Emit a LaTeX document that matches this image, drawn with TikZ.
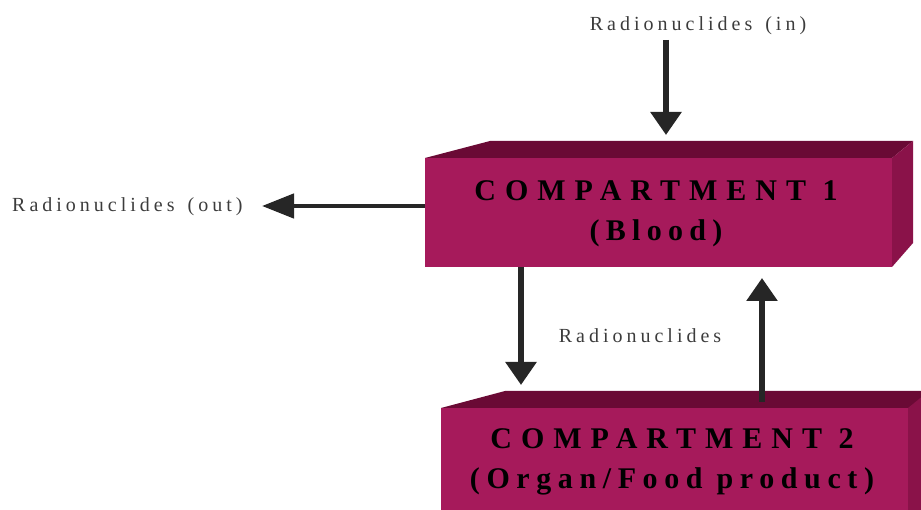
\documentclass[tikz,border=0pt]{standalone}
\usepackage{fontspec}
\setmainfont{Liberation Serif}
\usetikzlibrary{arrows.meta}
\definecolor{frontc}{HTML}{A61A5B}
\definecolor{topc}{HTML}{6A0A35}
\definecolor{sidec}{HTML}{8A1249}
\definecolor{arrc}{HTML}{262626}
\tikzset{
  x=1pt, y=-1pt,
  boxfront/.style={fill=frontc, draw=none, inner sep=0pt, align=center, text=black},
  boxtext/.style={font=\fontsize{30}{40}\selectfont\bfseries, align=center, inner sep=0pt},
  lbl/.style={font=\fontsize{20}{24}\selectfont\addfontfeature{LetterSpace=20}, text=arrc!90, inner sep=0pt},
  bigarrow/.style={draw=arrc, line width=6pt, -{Triangle[width=30pt,length=23pt]}},
  sidearrow/.style={draw=arrc, line width=4.5pt, -{Triangle[width=24pt,length=32pt]}}
}
\begin{document}
\begin{tikzpicture}
\useasboundingbox (0,0) rectangle (921,510);
% Compartment 1
\fill[topc] (425,158) -- (490,141) -- (913,141) -- (892,158) -- cycle;
\fill[sidec] (892,158) -- (913,141) -- (913,243) -- (892,267) -- cycle;
\node[boxfront, minimum width=467pt, minimum height=109pt] (b1) at (658.5,212.5) {};
\node[boxtext] (b1t) at (656,214) {{\addfontfeature{LetterSpace=30}COMPARTMENT 1}\\{\addfontfeature{LetterSpace=21}(Blood)}};
% Compartment 2
\fill[topc] (441,408) -- (505,391) -- (940,391) -- (919,408) -- cycle;
\fill[sidec] (908,408) -- (929,391) -- (940,391) -- (940,520) -- (908,520) -- cycle;
\node[boxfront, minimum width=467pt, minimum height=122pt] (b2) at (674.5,469) {};
\node[boxtext] (b2t) at (672,462) {{\addfontfeature{LetterSpace=30}COMPARTMENT 2}\\{\addfontfeature{LetterSpace=22}(Organ/Food product)}};
% labels
\node[lbl] (lin) at (698,26) {Radionuclides\hspace{13pt}(in)};
\node[lbl, anchor=west] (lout) at (12,207) {Radionuclides\hspace{13pt}(out)};
\node[lbl] (lmid) at (640,336) {Radionuclides};
% arrows
\coordinate (inS) at (666,40);
\coordinate (inE) at (666,135);
\draw[bigarrow] (inS) -- (inE);
\coordinate (outS) at (425,206);
\coordinate (outE) at (262,206);
\draw[sidearrow] (outS) -- (outE);
\coordinate (downS) at (521,267);
\coordinate (downE) at (521,385);
\draw[bigarrow] (downS) -- (downE);
\coordinate (upS) at (762,402);
\coordinate (upE) at (762,278);
\draw[bigarrow] (upS) -- (upE);
\end{tikzpicture}
\end{document}
